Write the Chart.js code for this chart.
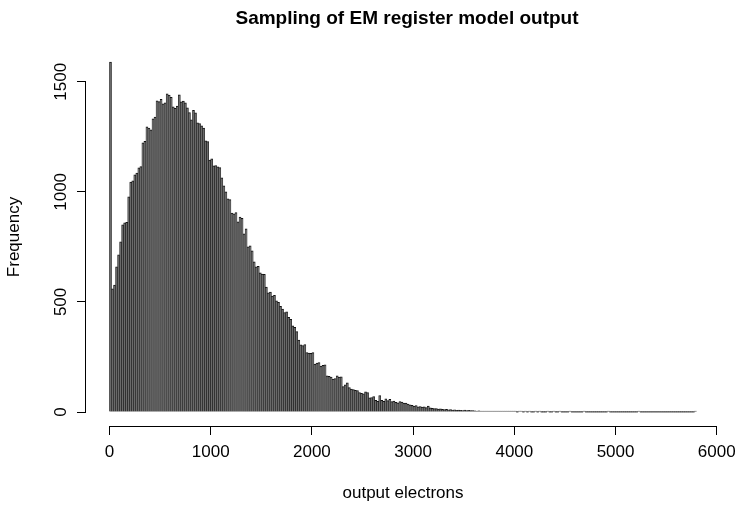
<!DOCTYPE html>
<html>
<head>
<meta charset="utf-8">
<script src="https://cdn.jsdelivr.net/npm/chart.js@4.4.1/dist/chart.umd.min.js"></script>
<style>
  body { margin: 0; background: #fff; }
  canvas { display: block; }
</style>
</head>
<body>
<canvas id="hist" width="738" height="517"></canvas>
<script>
// histogram of output electrons, 20 e- wide bins starting at 0
const binWidth = 20;
const counts = [
  1590, 560, 577, 659, 714, 773, 850, 859, 862, 977,
  1045, 1050, 1077, 1085, 1109, 1115, 1223, 1230, 1295, 1290,
  1282, 1332, 1340, 1414, 1410, 1420, 1400, 1405, 1445, 1440,
  1430, 1386, 1380, 1390, 1441, 1409, 1412, 1405, 1382, 1360,
  1327, 1370, 1359, 1314, 1310, 1300, 1290, 1232, 1228, 1145,
  1150, 1118, 1120, 1114, 1110, 1064, 1027, 1000, 968, 965,
  904, 900, 906, 864, 886, 880, 809, 832, 750, 755,
  732, 682, 659, 662, 632, 627, 625, 568, 541, 545,
  527, 530, 505, 498, 480, 468, 452, 455, 430, 421,
  391, 385, 365, 327, 305, 302, 306, 270, 268, 266,
  270, 218, 222, 224, 209, 212, 214, 164, 162, 159,
  150, 152, 164, 159, 160, 115, 123, 133, 111, 104,
  102, 98, 97, 88, 85, 82, 92, 88, 64, 66,
  70, 53, 49, 75, 53, 49, 60, 52, 58, 47,
  50, 44, 42, 47, 45, 40, 41, 36, 33, 30,
  27, 29, 24, 25, 22, 23, 20, 27, 19, 17,
  16, 15, 13, 14, 12, 11, 12, 10, 11, 9,
  10, 8, 9, 8, 7, 9, 7, 8, 6, 7,
  5, 4, 5, 4, 3, 4, 3, 3, 2, 3,
  2, 1, 2, 1, 1, 2, 1, 3, 1, 2,
  1, 0, 1, 1, 0, 1, 0, 1, 0, 0,
  1, 0, 1, 0, 0, 0, 1, 0, 0, 1,
  0, 0, 1, 0, 0, 0, 0, 1, 0, 0,
  0, 0, 0, 0, 1, 0, 0, 0, 0, 0,
  0, 0, 0, 0, 0, 0, 1, 0, 0, 0,
  0, 0, 0, 0, 0, 0, 0, 0, 0, 0,
  0, 1, 0, 0, 0, 0, 0, 0, 0, 0,
  0, 0, 0, 0, 0, 0, 0, 0, 0, 0,
  0, 0, 0, 0, 0, 0, 0, 0, 0, 1
];
const xTicks = [0, 1000, 2000, 3000, 4000, 5000, 6000];
const yTicks = [0, 500, 1000, 1500];

const chartTitle = 'Sampling of EM register model output';
const xLabel = 'output electrons';
const yLabel = 'Frequency';

const FONT = '"Liberation Sans", Arial, Helvetica, sans-serif';

// R-like extent: data range plus 4% each side
const xMax = counts.length * binWidth;
const yMax = Math.max(...counts);
const xPad = xMax * 0.04, yPad = yMax * 0.04;

const points = counts.map((c, i) => ({ x: i * binWidth + binWidth / 2, y: c }));

// axis lines, labels and titles, R base-graphics style
const rAxes = {
  id: 'rAxes',
  afterDraw(chart) {
    const { ctx, chartArea: a, scales: { x, y } } = chart;
    ctx.save();
    ctx.strokeStyle = '#000';
    ctx.lineWidth = 1;
    const yb = Math.round(a.bottom) + 0.5;
    const xl = Math.round(a.left) - 0.5;
    ctx.beginPath();
    ctx.moveTo(x.getPixelForValue(xTicks[0]), yb);
    ctx.lineTo(x.getPixelForValue(xTicks[xTicks.length - 1]), yb);
    ctx.moveTo(xl, y.getPixelForValue(yTicks[0]));
    ctx.lineTo(xl, y.getPixelForValue(yTicks[yTicks.length - 1]));
    ctx.stroke();

    ctx.fillStyle = '#000';
    ctx.textAlign = 'center';
    ctx.textBaseline = 'middle';
    ctx.font = '17px ' + FONT;
    xTicks.forEach(v => ctx.fillText(String(v), x.getPixelForValue(v), a.bottom + 26));
    yTicks.forEach(v => {
      ctx.save();
      ctx.translate(a.left - 25, y.getPixelForValue(v));
      ctx.rotate(-Math.PI / 2);
      ctx.fillText(String(v), 0, 0);
      ctx.restore();
    });

    const cx = (a.left + a.right) / 2;
    ctx.fillText(xLabel, cx, a.bottom + 67);
    ctx.save();
    ctx.translate(14, (a.top + a.bottom) / 2);
    ctx.rotate(-Math.PI / 2);
    ctx.fillText(yLabel, 0, 0);
    ctx.restore();

    ctx.font = 'bold 19px ' + FONT;
    ctx.fillText(chartTitle, cx + 4, 19);
    ctx.restore();
  }
};

const tickGrid = {
  offset: false,
  drawOnChartArea: false,
  drawTicks: true,
  tickLength: 9,
  color: '#000',
  lineWidth: 1
};

new Chart(document.getElementById('hist'), {
  type: 'bar',
  data: {
    datasets: [{
      data: points,
      backgroundColor: '#6a6a6a',
      borderColor: '#111111',
      borderWidth: { top: 1, left: 0.5, right: 0.5, bottom: 0 },
      borderSkipped: false,
      barPercentage: 1,
      categoryPercentage: 1,
      minBarLength: 1
    }]
  },
  options: {
    responsive: false,
    animation: false,
    layout: { padding: { top: 48, right: 18, left: 0, bottom: 0 } },
    plugins: { legend: { display: false }, tooltip: { enabled: false } },
    scales: {
      x: {
        type: 'linear',
        min: -xPad,
        max: xMax + xPad,
        offset: false,
        grid: tickGrid,
        border: { display: false },
        ticks: { display: false },
        afterBuildTicks: s => { s.ticks = xTicks.map(v => ({ value: v })); },
        afterFit: s => { s.height = 91; }
      },
      y: {
        type: 'linear',
        min: -yPad,
        max: yMax + yPad,
        grid: tickGrid,
        border: { display: false },
        ticks: { display: false },
        afterBuildTicks: s => { s.ticks = yTicks.map(v => ({ value: v })); },
        afterFit: s => { s.width = 86; }
      }
    }
  },
  plugins: [rAxes]
});
</script>
</body>
</html>
